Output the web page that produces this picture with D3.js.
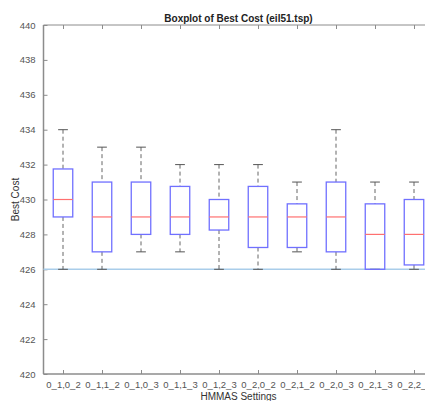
<!DOCTYPE html>
<html lang="en">
<head>
<meta charset="UTF-8">
<title>Boxplot of Best Cost</title>
<script src="https://d3js.org/d3.v7.min.js"></script>
<style>
    body { margin: 0; background: #fff; }
    text { font-family: Arial, "Liberation Sans", sans-serif; }
</style>
</head>
<body>
<svg id="main" width="425" height="401"></svg>
<script>
    // one entry per HMMAS setting
    let settings = ['0_1,0_2', '0_1,1_2', '0_1,0_3', '0_1,1_3', '0_1,2_3',
        '0_2,0_2', '0_2,1_2', '0_2,0_3', '0_2,1_3', '0_2,2_3'];
    let whiskerLow = [426, 426, 427, 427, 426, 426, 427, 426, 426, 426];
    let q1 = [429, 427, 428, 428, 428.25, 427.25, 427.25, 427, 426, 426.25];
    let median = [430, 429, 429, 429, 429, 429, 429, 429, 428, 428];
    let q3 = [431.75, 431, 431, 430.75, 430, 430.75, 429.75, 431, 429.75, 430];
    let whiskerHigh = [434, 433, 433, 432, 432, 432, 431, 434, 431, 431];
    let yTicks = [420, 422, 424, 426, 428, 430, 432, 434, 436, 438, 440];
    let optimum = 426;

    let svg = d3.select('svg#main');
    let mLeft = 43.5, mRight = 433.5, mTop = 25, mBottom = 374;

    let xScale = d3.scaleLinear().domain([0.5, settings.length + 0.5]).range([mLeft, mRight]);
    let yScale = d3.scaleLinear().domain([420, 440]).range([mBottom, mTop]);

    let data = settings.map(function (s, i) {
        return {name: s, pos: i + 1, lo: whiskerLow[i], q1: q1[i], med: median[i], q3: q3[i], hi: whiskerHigh[i]};
    });

    // axes box
    let axisColor = '#8c8c8c';
    svg.append('line').attr('x1', mLeft).attr('x2', mRight).attr('y1', mTop).attr('y2', mTop)
        .attr('stroke', axisColor).attr('stroke-width', 1);
    svg.append('line').attr('x1', mLeft).attr('x2', mRight).attr('y1', mBottom).attr('y2', mBottom)
        .attr('stroke', axisColor).attr('stroke-width', 1.5);
    svg.append('line').attr('x1', mLeft).attr('x2', mLeft).attr('y1', mTop).attr('y2', mBottom)
        .attr('stroke', axisColor).attr('stroke-width', 1.5);

    let yAxis = d3.axisLeft(yScale).tickValues(yTicks).tickSizeInner(-4).tickSizeOuter(0).tickPadding(8);
    let gy = svg.append('g').attr('transform', 'translate(' + mLeft + ',0)').call(yAxis);
    gy.select('.domain').remove();
    gy.selectAll('line').attr('stroke', axisColor);
    gy.selectAll('text').attr('fill', '#555').style('font-size', '9.5px');

    let xAxis = d3.axisBottom(xScale).tickValues(data.map(d => d.pos))
        .tickFormat(function (d, i) { return settings[i]; })
        .tickSizeInner(-4).tickSizeOuter(0).tickPadding(7);
    let gx = svg.append('g').attr('transform', 'translate(0,' + mBottom + ')').call(xAxis);
    gx.select('.domain').remove();
    gx.selectAll('line').attr('stroke', axisColor);
    gx.selectAll('text').attr('fill', '#555').style('font-size', '9.5px');

    let xTop = d3.axisTop(xScale).tickValues(data.map(d => d.pos)).tickFormat('').tickSizeInner(-4).tickSizeOuter(0);
    let gt = svg.append('g').attr('transform', 'translate(0,' + mTop + ')').call(xTop);
    gt.select('.domain').remove();
    gt.selectAll('line').attr('stroke', axisColor);

    // reference line at the known optimum
    svg.append('line')
        .attr('x1', mLeft).attr('x2', mRight)
        .attr('y1', yScale(optimum)).attr('y2', yScale(optimum))
        .attr('stroke', '#a9cdea').attr('stroke-width', 1.5);

    let boxW = xScale(1.25) - xScale(1);
    let capW = xScale(1.125) - xScale(1);

    let groups = svg.selectAll('g.box')
        .data(data)
        .enter()
        .append('g')
        .attr('class', 'box');

    // whiskers
    groups.append('line')
        .attr('x1', d => xScale(d.pos)).attr('x2', d => xScale(d.pos))
        .attr('y1', d => yScale(d.hi)).attr('y2', d => yScale(d.q3))
        .attr('stroke', '#666').attr('stroke-dasharray', '4,3');
    groups.append('line')
        .attr('x1', d => xScale(d.pos)).attr('x2', d => xScale(d.pos))
        .attr('y1', d => yScale(d.q1)).attr('y2', d => yScale(d.lo))
        .attr('stroke', '#666').attr('stroke-dasharray', '4,3');
    groups.append('line')
        .attr('x1', d => xScale(d.pos) - capW).attr('x2', d => xScale(d.pos) + capW)
        .attr('y1', d => yScale(d.hi)).attr('y2', d => yScale(d.hi))
        .attr('stroke', '#555');
    groups.append('line')
        .attr('x1', d => xScale(d.pos) - capW).attr('x2', d => xScale(d.pos) + capW)
        .attr('y1', d => yScale(d.lo)).attr('y2', d => yScale(d.lo))
        .attr('stroke', '#555');

    // boxes
    groups.append('rect')
        .attr('x', d => xScale(d.pos) - boxW)
        .attr('y', d => yScale(d.q3))
        .attr('width', 2 * boxW)
        .attr('height', d => yScale(d.q1) - yScale(d.q3))
        .attr('fill', 'none')
        .attr('stroke', '#7070ff').attr('stroke-width', 1.3);

    groups.append('line')
        .attr('x1', d => xScale(d.pos) - boxW).attr('x2', d => xScale(d.pos) + boxW)
        .attr('y1', d => yScale(d.med)).attr('y2', d => yScale(d.med))
        .attr('stroke', '#ff7070').attr('stroke-width', 1.2);

    // labels
    svg.append('text')
        .attr('x', (mLeft + mRight) / 2).attr('y', 21.5)
        .attr('text-anchor', 'middle')
        .style('font-size', '10px').style('font-weight', 'bold').attr('fill', '#222')
        .text('Boxplot of Best Cost (eil51.tsp)');
    svg.append('text')
        .attr('transform', 'translate(19,' + (mTop + mBottom) / 2 + ') rotate(-90)')
        .attr('text-anchor', 'middle')
        .style('font-size', '10px').attr('fill', '#333')
        .text('Best Cost');
    svg.append('text')
        .attr('x', (mLeft + mRight) / 2).attr('y', 400)
        .attr('text-anchor', 'middle')
        .style('font-size', '10px').attr('fill', '#333')
        .text('HMMAS Settings');
</script>
</body>
</html>
